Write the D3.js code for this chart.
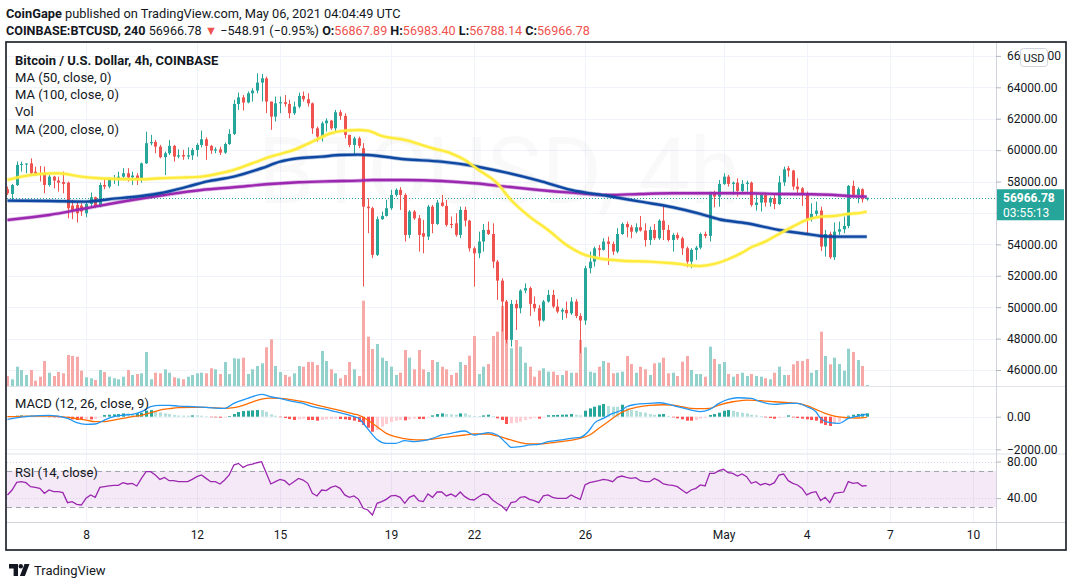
<!DOCTYPE html>
<html><head><meta charset="utf-8">
<script src="https://cdn.jsdelivr.net/npm/d3@7"></script>
<style>body{margin:0;background:#fff}svg{display:block}text{font-family:Roboto,'Open Sans',sans-serif}</style>
</head><body><svg id="c" width="1073" height="587"></svg>
<script>
// ---------- DATA (BTCUSD 4h, Coinbase, first bar Apr 5 2021 04:00 UTC) ----------
const firstBar = -17; // bar offset from Apr 8 00:00 UTC, 4h bars
const open = [57510,57210,57780,59060,59120,59160,58630,58480,58530,57780,58310,58060,57970,57930,56470,56510,56470,
55980,56570,57000,56400,57780,57680,58100,58190,58310,58530,58270,58380,58100,59160,60440,60520,60220,59550,59800,60270,59590,
59690,59590,59670,60010,60330,60690,60270,59970,60050,59840,60390,61030,62940,63360,63030,63620,63790,64300,64570,63090,62130,62980,63050,62940,62350,62770,63450,63240,62980,61390,60860,61710,61880,61390,62410,62180,60970,
60330,60750,60120,56400,56300,53330,55600,55810,56300,57150,57470,57150,54600,56090,55660,54710,54490,56400,55300,56660,56450,55300,55340,54600,56190,55510,53750,53430,54180,54920,54660,52900,51690,50360,47920,50210,49930,51060,51210,
50210,49930,49150,50360,50780,50040,49720,49830,49610,50360,49440,49150,52480,52900,53750,53650,54180,54030,53540,54660,55300,55090,54810,55090,54880,54280,54920,54390,55510,54920,54280,54600,54390,53750,52900,53650,53790,54660,
54540,57300,57040,57850,58310,57850,57930,57400,57850,57930,56510,56660,57150,56660,56940,56570,57950,58850,58700,57680,57570,57250,55600,55940,56150,53860,54660,53180,54810,54960,55170,57720,57150,57510,56867.89];
const high = [57680,57850,59270,59270,59160,59480,58950,58990,58950,58420,58360,58310,58630,58000,56830,56720,56620,
56660,57300,57040,57930,58210,58210,58420,58630,58850,58850,58630,58530,59210,61180,60970,60650,60330,59910,60650,60330,60050,
60010,60180,60120,60440,61240,60820,60330,60180,60220,60480,61330,63200,63660,63510,63730,63940,64890,64850,64680,63090,63410,63410,63510,63200,63090,63660,63730,63620,63030,61500,61820,62030,61920,62560,62560,62350,60970,
60860,60860,60440,56940,56400,55770,56090,56830,57470,57570,57640,57250,56190,56190,55870,55560,56510,56510,56830,57150,56830,55770,55980,56400,56400,55560,53860,54810,55300,55450,55340,53010,51840,50460,50460,50460,51140,51520,51310,
50680,50140,50460,51100,51100,50510,49930,50360,50630,50510,49610,52630,53540,53860,53960,54390,54490,54180,55030,55390,55450,55240,55340,55810,55340,55130,55300,55600,56510,55240,54710,54750,54490,53860,53750,53900,54750,54810,
57360,57420,58100,58530,58420,58000,58210,58100,58060,58000,57150,57250,57300,57040,57150,58360,58950,58990,58740,58210,57640,57360,56620,56720,56400,54920,54810,55390,55450,55770,57780,58060,57640,57570,56983.40];
const low = [57150,56830,57720,58630,58530,58420,58360,58000,57250,57680,57570,57360,57250,55660,55600,55390,55810,
55730,56400,56300,56360,57510,57570,57850,57720,58100,58000,57780,57780,57930,59120,60310,59800,59480,58420,59690,59270,59480,
59380,59420,59380,59590,60180,59380,59760,59800,59690,59760,60330,60970,62560,62520,62980,63090,63620,63090,62350,61290,61820,62350,62770,62030,62240,62660,63090,62770,61030,60540,60540,61180,61290,61180,61920,60750,60180,
59690,60120,51310,54710,53120,53260,55560,55770,56190,57040,56190,54180,54390,55560,53540,53430,54280,54710,55240,56400,55130,55030,54490,54390,55130,53540,51310,53120,53540,54600,52480,50460,48450,47700,47490,48550,49610,50890,49440,
49720,48770,49080,50290,49930,49610,49190,49300,49510,49300,47070,48870,52160,52590,53220,53600,52690,53330,53430,54600,54450,54390,54710,54810,53860,53960,54280,54280,54280,54180,53540,54280,53330,52540,52480,53010,53690,54390,
54180,56360,56400,57780,57680,57150,57040,57250,57360,56400,56150,56090,56400,56400,56240,56510,57720,58310,57470,57210,56450,54710,55450,55810,53580,53220,53070,53010,54600,54710,55030,57040,56620,56660,56788.14];
const close = [57250,57780,59060,59120,59150,58530,58480,58420,57780,58310,58060,57930,57850,56300,56190,55980,56090,
56570,57000,56400,57780,57680,58100,58190,58310,58530,58270,58380,58100,59160,60440,60520,60220,59550,59800,60270,59590,59670,
59590,59670,60010,60330,60690,60270,59970,60050,59840,60390,61030,62940,63360,63030,63620,63790,64300,64570,63090,62130,62980,63050,62940,62350,62770,63450,63240,62980,61390,60860,61710,61880,61390,62410,62180,60970,60330,
60750,60270,56400,56300,53330,55600,55810,56300,57150,57470,57150,54600,56090,55660,54600,54490,56400,55300,56660,56450,55240,55230,54600,56190,55510,53750,53430,54180,54920,54660,52900,51690,50360,47920,50210,49930,51060,51210,50210,
49930,49150,50360,50780,50040,49720,49830,49610,50360,49440,49150,52480,52900,53750,53650,54180,54030,53540,54660,55300,55090,54810,55090,54880,54280,54920,54390,55510,54920,54280,54600,54390,53750,52900,53650,53790,54660,54540,
57300,57040,57850,58310,57850,57930,57400,57850,57930,56510,56660,57150,56660,56940,56570,57950,58780,58700,57680,57510,57250,55600,55940,56150,53860,54660,53180,54810,54960,55170,57720,57150,57510,56870,56966.78];
const volume = [1000,670,1930,1600,1100,1600,530,930,2500,1330,1000,1400,1270,3100,3000,2930,1530,870,770,600,1600,1400,930,770,670,930,1600,1100,1200,1270,3400,670,1330,1270,1670,1330,870,770,
670,930,1100,1270,1330,1270,1770,1670,1200,2400,1200,2770,2730,2830,1200,1670,2000,2270,3870,4670,2000,1400,1100,930,1270,2000,1930,2400,2400,2100,3500,2500,1670,1270,770,1100,2400,1670,
1000,8530,4930,3700,4200,2830,2500,1930,1100,1330,3600,2830,1670,3600,1670,1400,2600,2400,1930,1670,1100,1330,2400,2100,3030,5000,1200,1930,2200,5000,5430,8000,8300,3770,4600,3930,2330,1930,
930,1530,1770,1430,1430,1100,1100,1530,1330,1330,4600,3870,1430,1330,1930,2500,2330,1270,1330,1430,3000,2200,1330,1930,1670,1100,2270,2330,2830,1270,1330,1000,2430,3000,1600,1200,1200,930,
3930,2700,2200,2400,1200,930,1200,1330,1000,1200,1000,930,770,670,1330,1930,1100,1100,2170,2500,2500,2700,1330,1600,5430,3000,2170,2830,2200,1530,3730,3400,2600,2000,100];
// moving averages: [bar offset, value]
const ma50 = [[-17,58100],[-14,58310],[-10,58482],[-6,58527],[-1,58310],[3,58209],[7,58164],[12,58145],[16,58209],[20,58247],[25,58310],[29,58527],[32,58737],[36,59164],[40,59584],[45,60010],[49,60539],[53,61074],[56,61240],[59,61284],[61,61240],[64,60903],[69,60648],[75,60118],[79,59800],[82,59374],[85,58737],[89,57890],[92,56827],[96,55764],[100,54917],[104,53962],[108,53325],[111,53113],[116,52960],[122,52899],[127,52797],[133,52625],[136,52752],[139,53051],[142,53472],[144,53815],[147,54172],[150,54662],[153,55127],[156,55554],[159,55764],[162,55808],[165,55936],[168,56018],[169,56082]];
const ma100 = [[-17,56782],[-8,56763],[0,56719],[5,56872],[12,57082],[16,57253],[22,57674],[26,57992],[32,58310],[38,58845],[42,59266],[46,59482],[51,59584],[55,59692],[59,59711],[61,59692],[69,59418],[77,59266],[84,58992],[91,58565],[98,58056],[105,57464],[113,57082],[120,56719],[127,56362],[133,55936],[137,55598],[143,55343],[150,54917],[156,54662],[159,54535],[162,54490],[166,54490],[169,54490]];
const ma200 = [[-17,55554],[-8,55872],[0,56298],[10,56827],[17,57145],[25,57464],[32,57635],[39,57827],[46,57954],[53,58018],[59,58056],[62,58100],[69,58100],[77,58036],[84,57890],[91,57674],[98,57464],[105,57292],[113,57145],[120,57209],[127,57253],[133,57253],[143,57253],[150,57209],[157,57190],[162,57145],[165,57082],[169,57037]];
// MACD (12,26,9): [bar offset, value]
const macdLine = [[-17,-163],[-12,41],[-8,82],[-4,-102],[-2,-367],[0,-469],[2,-449],[4,-204],[6,0],[8,102],[10,143],[12,306],[14,612],[16,694],[18,694],[20,653],[23,612],[26,571],[30,510],[32,816],[35,1122],[38,1367],[40,1224],[42,1122],[45,918],[47,816],[49,612],[52,449],[54,306],[57,102],[58,0],[59,-100],[60,-400],[62,-1100],[63,-1400],[65,-1632],[67,-1632],[69,-1469],[71,-1530],[73,-1469],[75,-1326],[77,-1122],[79,-1020],[82,-877],[84,-1122],[86,-1020],[87,-979],[89,-1122],[91,-1632],[92,-1877],[94,-1836],[96,-1734],[98,-1693],[100,-1530],[103,-1428],[105,-1326],[107,-1265],[109,-816],[110,-408],[112,-102],[114,204],[116,408],[117,612],[119,755],[122,816],[124,857],[126,775],[128,612],[131,408],[133,306],[135,449],[137,816],[139,1061],[141,1163],[144,1122],[146,918],[149,755],[152,816],[154,816],[156,612],[158,306],[159,-102],[161,-367],[163,-408],[165,-100],[167,40],[169,150]];
const signalLine = [[-17,0],[-12,41],[-8,41],[-4,-41],[-2,-122],[0,-204],[2,-306],[4,-306],[6,-204],[8,-102],[10,0],[12,82],[14,245],[16,408],[18,490],[20,551],[23,571],[26,571],[30,510],[32,560],[34,700],[36,900],[38,1080],[40,1142],[42,1122],[45,1020],[47,918],[50,714],[53,510],[56,306],[58,163],[59,102],[61,-204],[63,-612],[65,-1020],[67,-1224],[70,-1387],[73,-1428],[75,-1367],[79,-1224],[82,-1122],[84,-1061],[87,-1061],[89,-1183],[92,-1428],[94,-1591],[96,-1673],[98,-1673],[101,-1591],[104,-1489],[106,-1387],[109,-1122],[111,-714],[113,-306],[115,102],[117,408],[119,571],[122,694],[125,734],[127,714],[129,612],[131,510],[133,490],[135,510],[137,714],[140,918],[143,1020],[146,979],[149,918],[152,857],[154,816],[156,673],[158,449],[160,204],[162,41],[164,-41],[167,-80],[169,-40]];
const macdHist = [20,41,61,82,82,61,41,20,0,-20,-41,-41,-61,
-102,-163,-204,-204,-163,-163,-122,-41,102,122,143,163,204,204,163,204,245,367,408,306,265,204,163,100,70,
61,61,82,82,61,20,-20,-41,-61,-41,41,163,286,347,367,388,408,408,306,143,61,-20,-82,-143,-204,-163,-122,-204,-204,-245,-204,-163,-143,-122,-143,-163,-204,
-245,-326,-510,-673,-918,-816,-612,-449,-326,-245,-204,-224,-163,-122,-143,-143,-41,82,163,204,163,143,122,204,204,82,41,41,82,122,41,-102,-204,-449,-408,-367,-306,-204,-143,
-61,-122,-20,90,100,110,120,130,163,122,82,367,510,612,694,775,653,612,612,734,510,408,367,286,245,163,122,143,163,41,-41,-102,-163,-245,-245,-204,-122,-61,
102,163,245,367,408,367,286,245,204,122,82,41,-41,-82,-122,-82,-20,82,-41,-82,-122,-163,-204,-245,-408,-510,-571,-449,-306,-122,61,122,163,184,204];
const rsi = [43.5,48.9,57.3,58.0,56.9,52.5,51.8,50.7,45.3,48.9,47.1,47.1,46.0,35.1,36.2,33.3,32.5,39.8,43.5,40.9,51.8,52.5,53.3,54.0,54.0,56.9,55.5,56.2,53.3,61.6,68.9,68.9,65.3,60.5,62.7,59.1,59.1,58.0,
58.0,58.0,60.5,63.5,65.3,61.6,58.0,58.0,55.5,59.8,65.3,76.2,78.0,73.6,76.2,77.3,78.7,79.8,67.8,55.5,58.0,60.5,59.1,54.4,58.0,61.6,59.8,56.2,45.3,42.4,48.9,48.2,51.8,53.3,50.7,43.5,40.9,
42.4,38.7,28.9,27.1,21.6,34.4,36.2,38.7,42.4,43.1,40.9,34.4,40.9,43.1,37.3,36.2,44.5,40.9,46.7,46.7,42.4,44.5,41.6,46.7,41.6,38.7,38.0,41.6,44.5,43.5,38.0,34.4,31.5,26.4,35.1,36.2,40.9,41.6,38.7,
37.3,35.1,42.4,43.5,40.9,39.8,39.8,39.8,43.5,40.9,38.7,54.4,56.9,58.0,59.1,60.5,59.8,58.0,62.7,64.2,62.7,61.6,62.4,59.1,58.0,58.0,61.6,59.1,55.5,54.4,54.0,52.5,48.9,45.3,48.9,50.7,54.4,53.3,
67.1,67.1,70.0,71.5,67.8,67.1,64.2,66.4,63.5,56.2,58.0,54.4,56.2,54.4,56.9,65.3,66.4,59.1,56.2,54.4,50.7,43.5,46.0,47.1,37.3,40.9,35.1,45.3,46.0,46.7,58.0,56.2,56.9,53.3,53.6];
const priceTicks = [46000,48000,50000,52000,54000,56000,58000,60000,62000,64000,66000];
const macdTicks = [0,-2000];
const rsiTicks = [80,40];
const timeTickDates = ["2021-04-08","2021-04-12","2021-04-15","2021-04-19","2021-04-22","2021-04-26","2021-05-01","2021-05-04","2021-05-07","2021-05-10"];
const timeTickLabels = ["8","12","15","19","22","26","May","4","7","10"];
const lastPrice = 56966.78;

// ---------- LAYOUT ----------
const svg = d3.select('#c');
const L = 7, R = 996, FR = 1066;
const mainTop = 43, mainBot = 386.5, macdTop = 388, macdBot = 454, rsiTop = 455, rsiBot = 522.5;
const UP = '#26a69a', DN = '#ef5350', TXT = '#131722', GRID = '#f0f3fa', SEP = '#e0e3eb';
const H4 = 4 * 3600 * 1000, t0 = Date.UTC(2021, 3, 8);
const barTime = i => new Date(t0 + i * H4);
const x = d3.scaleUtc().domain([new Date(t0), new Date(Date.UTC(2021, 4, 4))]).range([86, 806.7]);
const y = d3.scaleLinear().domain([46000, 64000]).range([370, 87.3]);
const yV = d3.scaleLinear().domain([0, 10000]).range([386, 286]);
const yM = d3.scaleLinear().domain([-2000, 0]).range([449.3, 416.7]);
const yR = d3.scaleLinear().domain([30, 70]).range([507.3, 470.7]);
const bars = open.map((o, k) => ({i: firstBar + k, k, o, h: high[k], l: low[k], c: close[k], v: volume[k], hist: macdHist[k], rsi: rsi[k]}));
const bx = d => Math.round(x(barTime(d.i)));

const defs = svg.append('defs');
[['cm', mainTop, mainBot], ['cd', macdTop, macdBot], ['cr', rsiTop, rsiBot]].forEach(([id, t, b]) =>
  defs.append('clipPath').attr('id', id).append('rect').attr('x', L).attr('y', t).attr('width', R - L).attr('height', b - t));

// ---------- HEADER ----------
const h1 = svg.append('text').attr('x', 6).attr('y', 17.5).attr('font-size', 12.8).attr('fill', TXT);
h1.append('tspan').attr('font-weight', 'bold').text('CoinGape');
h1.append('tspan').text(' published on TradingView.com, May 06, 2021 04:04:49 UTC');
const h2parts = [['COINBASE:BTCUSD, 240', TXT, 'bold'], [' 56966.78 ', TXT, 'normal'], ['▼', DN, 'normal'], [' −548.91 (−0.95%) ', TXT, 'normal'],
  ['O:', TXT, 'bold'], ['56867.89 ', DN, 'normal'], ['H:', TXT, 'bold'], ['56983.40 ', DN, 'normal'],
  ['L:', TXT, 'bold'], ['56788.14 ', DN, 'normal'], ['C:', TXT, 'bold'], ['56966.78', DN, 'normal']];
const h2 = svg.append('text').attr('x', 6).attr('y', 35).attr('font-size', 12.6).attr('xml:space', 'preserve').style('white-space', 'pre');
h2.selectAll('tspan').data(h2parts).join('tspan').attr('fill', d => d[1]).attr('font-weight', d => d[2]).text(d => d[0]);

// ---------- GRID ----------
const grid = svg.append('g');
const tdates = timeTickDates.map(s => new Date(s + 'T00:00:00Z'));
grid.selectAll('line.v').data(tdates).join('line').attr('class', 'v')
  .attr('x1', d => Math.round(x(d)) + 0.5).attr('x2', d => Math.round(x(d)) + 0.5).attr('y1', mainTop).attr('y2', rsiBot).attr('stroke', GRID);
grid.selectAll('line.p').data(priceTicks).join('line').attr('class', 'p')
  .attr('x1', L).attr('x2', R).attr('y1', d => Math.round(y(d)) + 0.5).attr('y2', d => Math.round(y(d)) + 0.5).attr('stroke', GRID);
grid.selectAll('line.m').data(macdTicks).join('line').attr('class', 'm')
  .attr('x1', L).attr('x2', R).attr('y1', d => Math.round(yM(d)) + 0.5).attr('y2', d => Math.round(yM(d)) + 0.5).attr('stroke', GRID);

// watermark
const wm = svg.append('g').attr('clip-path', 'url(#cm)').attr('fill', '#000').attr('fill-opacity', 0.025).attr('text-anchor', 'middle');
wm.append('text').attr('x', 499).attr('y', 203).attr('font-size', 92).text('BTCUSD, 4h');
wm.append('text').attr('x', 499).attr('y', 287).attr('font-size', 46).text('Bitcoin / U.S. Dollar');

// ---------- MAIN PANE ----------
const main = svg.append('g').attr('clip-path', 'url(#cm)');
main.append('g').selectAll('rect').data(bars).join('rect')
  .attr('x', d => bx(d) - 1).attr('width', 3).attr('y', d => yV(d.v)).attr('height', d => yV(0) - yV(d.v))
  .attr('fill', d => d.c >= d.o ? '#93d2cc' : '#f7a9a7');
main.append('line').attr('x1', L).attr('x2', R).attr('y1', Math.round(y(lastPrice)) + 0.5).attr('y2', Math.round(y(lastPrice)) + 0.5)
  .attr('stroke', UP).attr('stroke-dasharray', '1,2');
const cg = main.append('g');
cg.selectAll('line').data(bars).join('line')
  .attr('x1', d => bx(d) + 0.5).attr('x2', d => bx(d) + 0.5).attr('y1', d => y(d.h)).attr('y2', d => y(d.l))
  .attr('stroke', d => d.c >= d.o ? UP : DN);
cg.selectAll('rect').data(bars).join('rect')
  .attr('x', d => bx(d) - 1).attr('width', 3)
  .attr('y', d => y(Math.max(d.o, d.c))).attr('height', d => Math.max(1, Math.abs(y(d.o) - y(d.c))))
  .attr('fill', d => d.c >= d.o ? UP : DN);
const maLine = d3.line().x(d => x(barTime(d[0]))).y(d => y(d[1])).curve(d3.curveMonotoneX);
[[ma200, '#9c27b0'], [ma100, '#0d47a1'], [ma50, '#ffeb3b']].forEach(([pts, col]) => {
  main.append('path').attr('d', maLine(pts)).attr('fill', 'none').attr('stroke', col).attr('stroke-opacity', 0.35).attr('stroke-width', 4);
  main.append('path').attr('d', maLine(pts)).attr('fill', 'none').attr('stroke', col).attr('stroke-width', 2.4);
});

// ---------- MACD PANE ----------
const md = svg.append('g').attr('clip-path', 'url(#cd)');
md.selectAll('rect').data(bars).join('rect')
  .attr('x', d => bx(d) - 1).attr('width', 3)
  .attr('y', d => Math.min(yM(0), yM(d.hist))).attr('height', d => Math.max(0.5, Math.abs(yM(d.hist) - yM(0))))
  .attr('fill', d => {
    const p = d.k > 0 ? macdHist[d.k - 1] : d.hist;
    if (d.hist >= 0) return p < d.hist ? '#26a69a' : '#b2dfdb';
    return p < d.hist ? '#ffcdd2' : '#ff5252';
  });
const mLine = d3.line().x(d => x(barTime(d[0]))).y(d => yM(d[1])).curve(d3.curveMonotoneX);
md.append('path').attr('d', mLine(signalLine)).attr('fill', 'none').attr('stroke', '#ff6d00').attr('stroke-width', 1.3);
md.append('path').attr('d', mLine(macdLine)).attr('fill', 'none').attr('stroke', '#2196f3').attr('stroke-width', 1.3);

// ---------- RSI PANE ----------
const rp = svg.append('g').attr('clip-path', 'url(#cr)');
rp.append('rect').attr('x', L).attr('width', R - L).attr('y', yR(70)).attr('height', yR(30) - yR(70)).attr('fill', '#9c27b0').attr('fill-opacity', 0.1);
rsiTicks.forEach(v => rp.append('line').attr('x1', L).attr('x2', R).attr('y1', Math.round(yR(v)) + 0.5).attr('y2', Math.round(yR(v)) + 0.5)
  .attr('stroke', '#d8d0e6').attr('stroke-dasharray', '1,2'));
[70, 30].forEach(v => rp.append('line').attr('x1', L).attr('x2', R).attr('y1', Math.round(yR(v)) + 0.5).attr('y2', Math.round(yR(v)) + 0.5)
  .attr('stroke', '#a3a6af').attr('stroke-dasharray', '5,4'));
rp.append('path').attr('d', d3.line().x(d => x(barTime(d.i))).y(d => yR(d.rsi))(bars))
  .attr('fill', 'none').attr('stroke', '#9c27b0').attr('stroke-width', 1.3);

// ---------- SEPARATORS ----------
const sep = svg.append('g').attr('stroke', SEP);
[mainBot, macdBot].forEach(v => sep.append('line').attr('x1', L).attr('x2', FR).attr('y1', v).attr('y2', v));
sep.append('line').attr('x1', L).attr('x2', FR).attr('y1', rsiBot).attr('y2', rsiBot).attr('stroke', '#d1d4dc');
sep.append('line').attr('x1', R + 0.5).attr('x2', R + 0.5).attr('y1', mainTop).attr('y2', 550).attr('stroke', '#d1d4dc');

// ---------- AXES ----------
function styleAxis(g) {
  g.select('.domain').remove();
  g.selectAll('line').attr('stroke', '#b2b5be');
  g.selectAll('text').attr('font-size', 12).attr('fill', TXT).attr('font-family', 'Roboto, sans-serif');
}
const ly = y(lastPrice);
// price labels hidden behind the last-price badge or the USD badge are not drawn (as in TradingView)
const visiblePriceTicks = priceTicks.filter(v => Math.abs(y(v) - (ly + 7)) > 20 && y(v) > 66);
svg.append('g').attr('transform', `translate(${R},0)`)
  .call(d3.axisRight(y).tickValues(priceTicks).tickFormat(v => visiblePriceTicks.includes(v) ? d3.format('.2f')(v) : '').tickSize(5).tickPadding(6)).call(styleAxis);
svg.append('g').attr('transform', `translate(${R},0)`)
  .call(d3.axisRight(yM).tickValues(macdTicks).tickFormat(d3.format('.2f')).tickSize(5).tickPadding(6)).call(styleAxis);
svg.append('g').attr('transform', `translate(${R},0)`)
  .call(d3.axisRight(yR).tickValues(rsiTicks).tickFormat(d3.format('.2f')).tickSize(5).tickPadding(6)).call(styleAxis);
svg.append('g').attr('transform', `translate(0,${rsiBot})`)
  .call(d3.axisBottom(x).tickValues(tdates).tickFormat((d, i) => timeTickLabels[i]).tickSize(0).tickPadding(8)).call(styleAxis);

// top price label partly covered by the USD badge: show the uncovered ends
const topY = y(66000) + 4.3;
svg.append('text').attr('x', 1007).attr('y', topY).attr('font-size', 12).attr('fill', TXT).text('66');
svg.append('text').attr('x', 1047.5).attr('y', topY).attr('font-size', 12).attr('fill', TXT).text('00');
// USD badge
svg.append('rect').attr('x', 1020.5).attr('y', 48.5).attr('width', 27).attr('height', 18).attr('rx', 3)
  .attr('fill', '#fff').attr('stroke', '#d1d4dc');
svg.append('text').attr('x', 1034).attr('y', 61.5).attr('text-anchor', 'middle').attr('font-size', 11).attr('fill', TXT).text('USD');
// last price badge
svg.append('rect').attr('x', R + 1).attr('y', ly - 8.5).attr('width', 67).attr('height', 31).attr('fill', UP);
svg.append('text').attr('x', 1003).attr('y', ly + 4).attr('font-size', 12).attr('font-weight', 'bold').attr('fill', '#fff').text(d3.format('.2f')(lastPrice));
svg.append('text').attr('x', 1003).attr('y', ly + 19.5).attr('font-size', 12).attr('fill', '#fff').text('03:55:13');

// legends
const lg = svg.append('g').attr('font-size', 13).attr('fill', TXT);
lg.append('text').attr('x', 15).attr('y', 65).attr('font-weight', 'bold').text('Bitcoin / U.S. Dollar, 4h, COINBASE');
['MA (50, close, 0)', 'MA (100, close, 0)', 'Vol', 'MA (200, close, 0)'].forEach((t, k) =>
  lg.append('text').attr('x', 15).attr('y', 82 + k * 17.2).text(t));
lg.append('text').attr('x', 15).attr('y', 408).text('MACD (12, 26, close, 9)');
lg.append('text').attr('x', 15).attr('y', 476.5).text('RSI (14, close)');

// frame
svg.append('rect').attr('x', 6).attr('y', 42).attr('width', FR - 6).attr('height', 508)
  .attr('fill', 'none').attr('stroke', '#131722').attr('stroke-width', 1.6);

// TradingView footer
const ft = svg.append('g').attr('fill', TXT);
ft.append('path').attr('d', 'M9 564h9v12h-4.4v-7.6H9z');
ft.append('circle').attr('cx', 20.8).attr('cy', 566.3).attr('r', 2.2);
ft.append('path').attr('d', 'M24.5 564h5l-4.6 12h-5z');
ft.append('text').attr('x', 34).attr('y', 575).attr('font-size', 13).text('TradingView');
</script></body></html>
